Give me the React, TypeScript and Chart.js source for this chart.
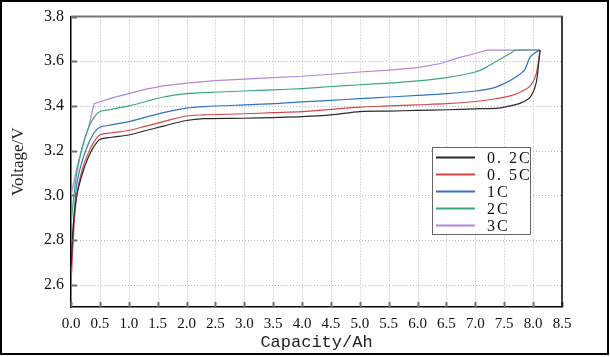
import React, { useEffect, useRef } from "react";
import { Chart, registerables } from "chart.js";

Chart.register(...registerables);

const xTicks = [0, 0.5, 1, 1.5, 2, 2.5, 3, 3.5, 4, 4.5, 5, 5.5, 6, 6.5, 7, 7.5, 8, 8.5];
const yTicks = [2.6, 2.8, 3.0, 3.2, 3.4, 3.6, 3.8];

const seriesLabels = ["0. 2C", "0. 5C", "1C", "2C", "3C"];
const seriesColors = ["#2b2b2b", "#d24848", "#2f72bd", "#3ba878", "#b585da"];

const cap02 = [0, 0.05, 0.1, 0.2, 0.3, 0.4, 0.5, 0.7, 1.0, 1.3, 1.6, 2.0, 2.3, 3.0, 3.5, 4.0, 4.5, 5.0, 5.5, 6.0, 6.5, 7.0, 7.4, 7.6, 7.8, 7.95, 8.05, 8.1, 8.12];
const v02 = [2.68, 2.9, 3.0, 3.1, 3.17, 3.22, 3.25, 3.26, 3.27, 3.29, 3.31, 3.335, 3.343, 3.345, 3.348, 3.352, 3.36, 3.375, 3.377, 3.38, 3.383, 3.387, 3.39, 3.4, 3.415, 3.44, 3.5, 3.6, 3.65];

const cap05 = [0, 0.05, 0.1, 0.2, 0.3, 0.4, 0.5, 0.7, 1.0, 1.3, 1.6, 2.0, 2.3, 3.0, 3.5, 4.0, 4.5, 5.0, 5.5, 6.0, 6.5, 7.0, 7.3, 7.6, 7.8, 7.95, 8.05, 8.12];
const v05 = [2.6, 2.85, 3.0, 3.12, 3.19, 3.24, 3.27, 3.28, 3.29, 3.31, 3.33, 3.355, 3.36, 3.365, 3.37, 3.375, 3.385, 3.395, 3.4, 3.405, 3.41, 3.42, 3.43, 3.445, 3.465, 3.49, 3.54, 3.65];

const cap1 = [0, 0.05, 0.1, 0.2, 0.3, 0.4, 0.5, 0.7, 1.0, 1.3, 1.6, 2.0, 2.3, 3.0, 3.5, 4.0, 4.5, 5.0, 5.5, 6.0, 6.5, 7.0, 7.3, 7.5, 7.7, 7.85, 7.95, 8.05, 8.12];
const v1 = [2.72, 2.9, 3.05, 3.16, 3.23, 3.28, 3.305, 3.315, 3.33, 3.35, 3.37, 3.39, 3.397, 3.405, 3.41, 3.418, 3.425, 3.433, 3.44, 3.447, 3.455, 3.467, 3.48, 3.5, 3.53, 3.56, 3.62, 3.64, 3.65];

const cap2 = [0, 0.05, 0.1, 0.2, 0.3, 0.4, 0.5, 0.7, 1.0, 1.3, 1.6, 2.0, 2.3, 3.0, 3.5, 4.0, 4.5, 5.0, 5.5, 6.0, 6.5, 7.0, 7.2, 7.4, 7.6, 7.7, 8.12];
const v2 = [2.87, 3.0, 3.1, 3.22, 3.3, 3.35, 3.375, 3.385, 3.4, 3.42, 3.44, 3.455, 3.46, 3.467, 3.472, 3.478, 3.487, 3.495, 3.502, 3.512, 3.527, 3.552, 3.575, 3.605, 3.635, 3.65, 3.65];

const cap3 = [0, 0.1, 0.2, 0.3, 0.4, 0.7, 1.0, 1.3, 1.6, 2.0, 2.5, 3.0, 3.5, 4.0, 4.5, 5.0, 5.5, 6.0, 6.4, 6.7, 7.0, 7.2, 8.12];
const v3 = [3.0, 3.12, 3.22, 3.3, 3.41, 3.435, 3.455, 3.475, 3.49, 3.502, 3.513, 3.52, 3.527, 3.533, 3.542, 3.552, 3.56, 3.572, 3.59, 3.615, 3.635, 3.65, 3.65];

const capacities = [cap02, cap05, cap1, cap2, cap3];
const voltages = [v02, v05, v1, v2, v3];
const tensions = [0.3, 0.3, 0.3, 0.25, 0];

const dottedGrid = {
  id: "dottedGrid",
  beforeDatasetsDraw(chart: any) {
    const { ctx, chartArea } = chart;
    const { left, right, top, bottom } = chartArea;
    const xs = chart.scales.x;
    const ys = chart.scales.y;
    ctx.save();
    ctx.strokeStyle = "#b8b8b8";
    ctx.lineWidth = 1;
    ctx.setLineDash([1, 2]);
    ctx.beginPath();
    xTicks.forEach((v) => {
      const px = Math.round(xs.getPixelForValue(v)) + 0.5;
      if (px <= left + 1 || px >= right - 1) return;
      ctx.moveTo(px, top);
      ctx.lineTo(px, bottom);
    });
    yTicks.forEach((v) => {
      const py = Math.round(ys.getPixelForValue(v)) + 0.5;
      if (py <= top + 1 || py >= bottom - 1) return;
      ctx.moveTo(left, py);
      ctx.lineTo(right, py);
    });
    ctx.stroke();
    ctx.restore();
  },
};

const frameAndLegend = {
  id: "frameAndLegend",
  afterDraw(chart: any) {
    const { ctx, chartArea } = chart;
    const { left, right, top, bottom } = chartArea;
    const xs = chart.scales.x;
    const ys = chart.scales.y;
    ctx.save();
    // inward ticks
    ctx.strokeStyle = "#707070";
    ctx.lineWidth = 2;
    ctx.beginPath();
    yTicks.forEach((v) => {
      const py = Math.round(ys.getPixelForValue(v)) + 0.5;
      ctx.moveTo(left, py);
      ctx.lineTo(left + 6, py);
    });
    xTicks.forEach((v) => {
      const px = Math.round(xs.getPixelForValue(v)) + 0.5;
      ctx.moveTo(px, bottom);
      ctx.lineTo(px, bottom - 5);
    });
    ctx.stroke();
    // top frame (gray) and right frame (black)
    ctx.strokeStyle = "#777";
    ctx.lineWidth = 2;
    ctx.beginPath();
    ctx.moveTo(left, top);
    ctx.lineTo(right + 1, top);
    ctx.stroke();
    ctx.strokeStyle = "#000";
    ctx.lineWidth = 1.5;
    ctx.beginPath();
    ctx.moveTo(right, top);
    ctx.lineTo(right, bottom);
    ctx.stroke();
    // legend
    const bx = 432, by = 147, bw = 98, bh = 87;
    ctx.fillStyle = "#fff";
    ctx.fillRect(bx, by, bw, bh);
    ctx.strokeStyle = "#666";
    ctx.lineWidth = 1;
    ctx.strokeRect(bx + 0.5, by + 0.5, bw, bh);
    ctx.font = "16px 'Liberation Serif'";
    (ctx as any).letterSpacing = "2px";
    ctx.textBaseline = "middle";
    ctx.textAlign = "left";
    chart.data.datasets.forEach((ds: any, i: number) => {
      const cy = by + 10.5 + i * 17;
      ctx.strokeStyle = ds.borderColor;
      ctx.lineWidth = 2;
      ctx.beginPath();
      ctx.moveTo(bx + 4, cy);
      ctx.lineTo(bx + 43, cy);
      ctx.stroke();
      ctx.fillStyle = "#111";
      ctx.fillText(ds.label, bx + 55, cy + 1);
    });
    ctx.restore();
  },
};

export default function App() {
  const ref = useRef<HTMLCanvasElement | null>(null);
  useEffect(() => {
    if (!ref.current) return;
    const datasets = seriesLabels.map((label, i) => ({
      label,
      data: capacities[i].map((c, j) => ({ x: c, y: voltages[i][j] })),
      borderColor: seriesColors[i],
      backgroundColor: seriesColors[i],
      borderWidth: 1.2,
      pointRadius: 0,
      tension: tensions[i],
      fill: false,
    }));
    const chart = new Chart(ref.current, {
      type: "line",
      data: { datasets },
      plugins: [dottedGrid, frameAndLegend],
      options: {
        animation: false,
        responsive: true,
        maintainAspectRatio: false,
        layout: { padding: { top: 14, right: 48, left: 0, bottom: 0 } },
        plugins: { legend: { display: false }, tooltip: { enabled: false } },
        scales: {
          x: {
            type: "linear",
            min: 0,
            max: 8.5,
            afterBuildTicks: (s: any) => {
              s.ticks = xTicks.map((v) => ({ value: v }));
            },
            afterFit: (s: any) => {
              s.height = 50;
            },
            grid: { display: false, drawTicks: false },
            border: { display: true, color: "#000", width: 1.5 },
            ticks: {
              color: "#111",
              padding: 8,
              font: { family: "'Liberation Serif'", size: 15 },
              maxRotation: 0,
              autoSkip: false,
              callback: (v: any) => Number(v).toFixed(1),
            },
            title: {
              display: true,
              text: "Capacity/Ah",
              color: "#222",
              font: { family: "'Liberation Mono'", size: 17 },
              padding: { top: 0, bottom: 4 },
            },
          },
          y: {
            min: 2.5,
            max: 3.8,
            afterBuildTicks: (s: any) => {
              s.ticks = yTicks.map((v) => ({ value: v }));
            },
            afterFit: (s: any) => {
              s.width = 71;
            },
            grid: { display: false, drawTicks: false },
            border: { display: true, color: "#000", width: 1.5 },
            ticks: {
              color: "#111",
              padding: 7,
              font: { family: "'Liberation Serif'", size: 16 },
              callback: (v: any) => Number(v).toFixed(1),
            },
            title: {
              display: true,
              text: "Voltage/V",
              color: "#222",
              font: { family: "'Liberation Serif'", size: 17 },
              padding: { top: 8, bottom: 0 },
            },
          },
        },
      },
    });
    return () => chart.destroy();
  }, []);
  return (
    <>
      <div style={{ position: "absolute", left: 0, top: 0, width: 610, height: 357, background: "#fff" }}>
        <canvas ref={ref} />
      </div>
      <div
        style={{
          position: "absolute",
          left: 0,
          top: 0,
          width: 609,
          height: 355,
          boxSizing: "border-box",
          border: "2px solid #000",
          pointerEvents: "none",
        }}
      />
    </>
  );
}
